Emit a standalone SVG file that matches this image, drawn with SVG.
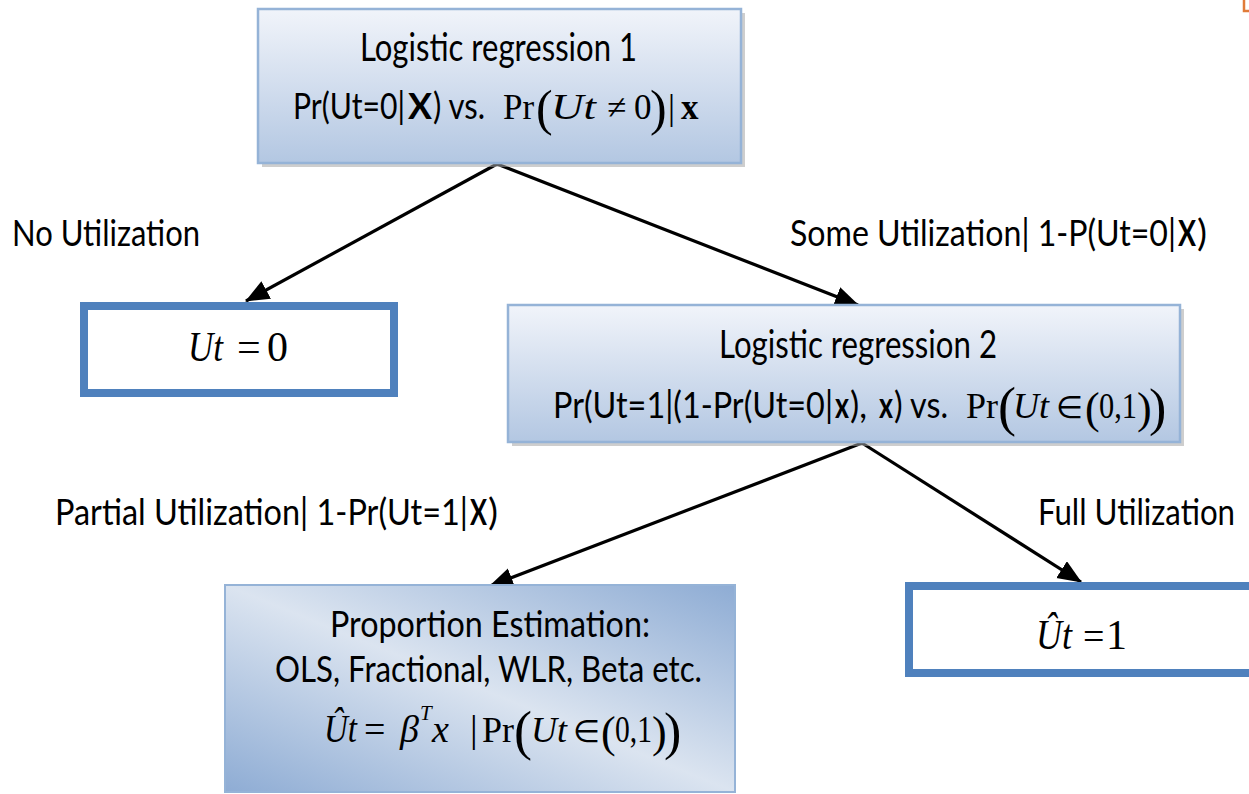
<svg xmlns="http://www.w3.org/2000/svg" width="1249" height="794" viewBox="0 0 1249 794">
<defs>
<linearGradient id="gv" x1="0" y1="0" x2="0" y2="1">
<stop offset="0" stop-color="#f1f4fa"/>
<stop offset="1" stop-color="#b3c7e2"/>
</linearGradient>
<linearGradient id="gd" x1="1" y1="0" x2="0" y2="1">
<stop offset="0" stop-color="#8eacd4"/>
<stop offset="0.5" stop-color="#dbe4f0"/>
<stop offset="1" stop-color="#8eacd4"/>
</linearGradient>
<marker id="ah" markerUnits="userSpaceOnUse" markerWidth="26" markerHeight="22" refX="23" refY="10" orient="auto">
<path d="M0 0 L24 10 L0 20 z" fill="#000"/>
</marker>
</defs>
<style>
.s{font-family:Lato,"Liberation Sans",sans-serif;font-size:36px;fill:#000}
.t{font-family:Lato,"Liberation Sans",sans-serif;font-size:38px;fill:#000}
.b{font-weight:bold}
.m{font-family:"Liberation Serif","Times New Roman",serif;fill:#000}
.i{font-style:italic}
.soft{fill:url(#gv);stroke:#95b3d7;stroke-width:2.5}
.shadow{fill:#a6a6a6;opacity:0.55}
.thick{fill:#fff;stroke:#4f81bd;stroke-width:8}
.conn{stroke:#000;stroke-width:3.2;fill:none;marker-end:url(#ah)}
</style>
<rect x="0" y="0" width="1249" height="794" fill="#fff"/>
<path d="M1244 0 V11 H1249" fill="none" stroke="#e07b39" stroke-width="2.5"/>

<g id="connectors">
<line class="conn" x1="497" y1="164" x2="246" y2="301"/>
<line class="conn" x1="497" y1="164" x2="858" y2="305"/>
<line class="conn" x1="862" y1="443" x2="490" y2="586"/>
<line class="conn" x1="862" y1="443" x2="1081" y2="582"/>
</g>

<g id="lr1">
<rect class="shadow" x="262" y="13" width="483" height="154"/>
<rect class="soft" x="258" y="9" width="483" height="154"/>
<text class="t" x="360" y="61" textLength="277" lengthAdjust="spacingAndGlyphs">Logistic regression 1</text>
<text y="119"><tspan class="s" x="293" y="119" textLength="112" lengthAdjust="spacingAndGlyphs">Pr(Ut=0|</tspan><tspan class="s b" x="408" y="119" textLength="24" lengthAdjust="spacingAndGlyphs">X</tspan><tspan class="s" x="433" y="119" textLength="52" lengthAdjust="spacingAndGlyphs">) vs.</tspan><tspan class="m" x="503" y="119" font-size="35">Pr</tspan><tspan class="m" x="536" y="125" font-size="50">(</tspan><tspan class="m i" x="551" y="119" font-size="35" textLength="45" lengthAdjust="spacingAndGlyphs">Ut</tspan><tspan class="m" x="607" y="119" font-size="35">≠</tspan><tspan class="m" x="634" y="119" font-size="35">0</tspan><tspan class="m" x="650" y="125" font-size="50">)</tspan><tspan class="m" x="668" y="119" font-size="35">|</tspan><tspan class="m b" x="681" y="119" font-size="35">x</tspan></text>
</g>

<g id="ut0">
<rect class="thick" x="84" y="306" width="310" height="87"/>
<text class="m" y="361" font-size="42"><tspan class="i" x="188" textLength="35" lengthAdjust="spacingAndGlyphs">Ut</tspan><tspan x="237">=</tspan><tspan x="267">0</tspan></text>
</g>

<g id="lr2">
<rect class="shadow" x="512" y="309" width="672" height="137"/>
<rect class="soft" x="508" y="305" width="672" height="137"/>
<text class="t" x="719" y="358" textLength="278" lengthAdjust="spacingAndGlyphs">Logistic regression 2</text>
<text y="418"><tspan class="s" x="553" y="418" textLength="280" lengthAdjust="spacingAndGlyphs">Pr(Ut=1|(1-Pr(Ut=0|</tspan><tspan class="s b" x="835" y="418" textLength="14" lengthAdjust="spacingAndGlyphs">x</tspan><tspan class="s" x="850" y="418" textLength="17" lengthAdjust="spacingAndGlyphs">),</tspan><tspan class="s b" x="879" y="418" textLength="14" lengthAdjust="spacingAndGlyphs">x</tspan><tspan class="s" x="894" y="418" textLength="54" lengthAdjust="spacingAndGlyphs">) vs.</tspan><tspan class="m" x="966" y="418" font-size="36">Pr</tspan><tspan class="m" x="998" y="425" font-size="54">(</tspan><tspan class="m i" x="1013" y="418" font-size="36" textLength="36" lengthAdjust="spacingAndGlyphs">Ut</tspan><tspan class="m" x="1056" y="418" font-size="31">∈</tspan><tspan class="m" x="1085" y="423" font-size="44">(</tspan><tspan class="m" x="1099" y="418" font-size="36" textLength="38" lengthAdjust="spacingAndGlyphs">0,1</tspan><tspan class="m" x="1137" y="423" font-size="44">)</tspan><tspan class="m" x="1149" y="425" font-size="52">)</tspan></text>
</g>

<g id="prop">
<rect x="225" y="585" width="510" height="207" fill="url(#gd)" stroke="#95b3d7" stroke-width="2"/>
<text class="s" x="330" y="637" textLength="320" lengthAdjust="spacingAndGlyphs">Proportion Estimation:</text>
<text class="s" x="275" y="682" textLength="427" lengthAdjust="spacingAndGlyphs">OLS, Fractional, WLR, Beta etc.</text>
<text y="742"><tspan class="m i" x="324" y="742" font-size="40" textLength="33" lengthAdjust="spacingAndGlyphs">Ût</tspan><tspan class="m" x="364" y="742" font-size="38">=</tspan><tspan class="m i" x="400" y="742" font-size="38">β</tspan><tspan class="m i" x="420" y="720" font-size="21">T</tspan><tspan class="m i" x="432" y="742" font-size="38">x</tspan><tspan class="m" x="470" y="742" font-size="38">|</tspan><tspan class="m" x="482" y="742" font-size="36">Pr</tspan><tspan class="m" x="514" y="749" font-size="54">(</tspan><tspan class="m i" x="531" y="742" font-size="36" textLength="36" lengthAdjust="spacingAndGlyphs">Ut</tspan><tspan class="m" x="573" y="742" font-size="31">∈</tspan><tspan class="m" x="601" y="747" font-size="44">(</tspan><tspan class="m" x="615" y="742" font-size="37" textLength="37" lengthAdjust="spacingAndGlyphs">0,1</tspan><tspan class="m" x="652" y="747" font-size="44">)</tspan><tspan class="m" x="664" y="749" font-size="52">)</tspan></text>
</g>

<g id="ut1">
<rect class="thick" x="909" y="586" width="350" height="87"/>
<text class="m" y="649" font-size="42"><tspan class="i" x="1036" textLength="36" lengthAdjust="spacingAndGlyphs">Ût</tspan><tspan x="1083" font-size="38">=</tspan><tspan x="1106">1</tspan></text>
</g>

<g id="labels">
<text class="s" x="12" y="246" textLength="188" lengthAdjust="spacingAndGlyphs">No Utilization</text>
<text y="246"><tspan class="s" x="790" y="246" textLength="386" lengthAdjust="spacingAndGlyphs">Some Utilization|  1-P(Ut=0|</tspan><tspan class="s b" x="1178" y="246" textLength="18" lengthAdjust="spacingAndGlyphs">X</tspan><tspan class="s" x="1197" y="246" textLength="10" lengthAdjust="spacingAndGlyphs">)</tspan></text>
<text y="525"><tspan class="s" x="55" y="525" textLength="413" lengthAdjust="spacingAndGlyphs">Partial Utilization|  1-Pr(Ut=1|</tspan><tspan class="s b" x="470" y="525" textLength="17" lengthAdjust="spacingAndGlyphs">X</tspan><tspan class="s" x="488" y="525" textLength="10" lengthAdjust="spacingAndGlyphs">)</tspan></text>
<text class="s" x="1038" y="525" textLength="197" lengthAdjust="spacingAndGlyphs">Full Utilization</text>
</g>
</svg>
